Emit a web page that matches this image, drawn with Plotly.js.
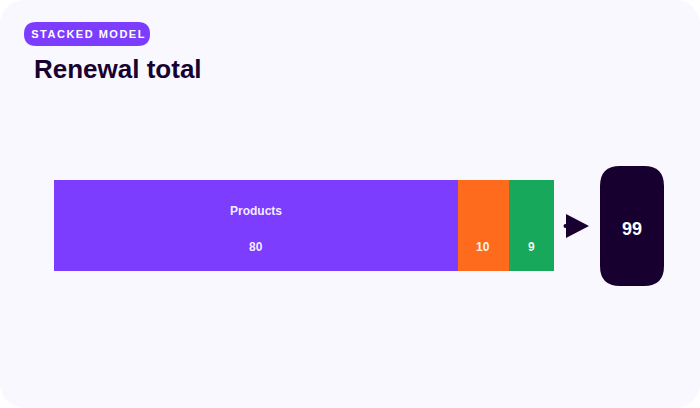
<!DOCTYPE html>
<html>
<head>
<meta charset="utf-8">
<script src="https://cdn.plot.ly/plotly-3.0.1.min.js"></script>
<style>
  html, body { margin: 0; padding: 0; background: #ffffff; }
  #card { width: 700px; height: 408px; background: #faf8ff; border-radius: 24px; overflow: hidden; }
  #chart { width: 700px; height: 408px; }
</style>
</head>
<body>
<div id="card"><div id="chart"></div></div>
<script>
// ---- data ----
const categories = ["Renewal"];
const seriesNames = ["Products", "Services", "Other"];
const seriesValues = [80, 10, 9];
const seriesColors = ["#7c3dff", "#ff6b1c", "#17a85b"];
const showName = [true, false, false];

const total = seriesValues.reduce((a, b) => a + b, 0);

const traces = seriesNames.map((name, i) => ({
  type: "bar",
  orientation: "h",
  name: name,
  y: categories,
  x: [seriesValues[i]],
  marker: { color: seriesColors[i], line: { width: 0 } },
  hoverinfo: "skip"
}));

const FONT = "Liberation Sans, Arial, sans-serif";
const annotations = [];
let cum = 0;
seriesValues.forEach((v, i) => {
  const mid = cum + v / 2;
  cum += v;
  if (showName[i]) {
    annotations.push({
      x: mid, y: categories[0], xref: "x", yref: "y",
      text: "<b>" + seriesNames[i] + "</b>", showarrow: false,
      yshift: 14.5, font: { family: FONT, size: 12, color: "rgba(255,255,255,0.93)" }
    });
  }
  annotations.push({
    x: mid, y: categories[0], xref: "x", yref: "y",
    text: "<b>" + v + "</b>", showarrow: false,
    yshift: -21.5, font: { family: FONT, size: 12, color: "rgba(255,255,255,0.93)" }
  });
});

// badge text
annotations.push({
  x: 88 / 700, y: 1 - 34 / 408, xref: "paper", yref: "paper",
  text: "<b>STACKED MODEL</b>", showarrow: false, xanchor: "center", yanchor: "middle",
  font: { family: FONT, size: 11, color: "#ffffff" }
});
// title
annotations.push({
  x: 32 / 700, y: 1 - 69 / 408, xref: "paper", yref: "paper",
  text: "<b>Renewal total</b>", showarrow: false, xanchor: "left", yanchor: "middle",
  font: { family: FONT, size: 26, color: "#17022f" }
});
// total value
annotations.push({
  x: 632 / 700, y: 1 - 229 / 408, xref: "paper", yref: "paper",
  text: "<b>" + total + "</b>", showarrow: false, xanchor: "center", yanchor: "middle",
  font: { family: FONT, size: 18, color: "#ffffff" }
});

function px(x) { return x / 700; }
function py(y) { return 1 - y / 408; }
function roundRect(x0, y0, x1, y1, r) {
  return `M${px(x0 + r)},${py(y0)} L${px(x1 - r)},${py(y0)} Q${px(x1)},${py(y0)} ${px(x1)},${py(y0 + r)} ` +
         `L${px(x1)},${py(y1 - r)} Q${px(x1)},${py(y1)} ${px(x1 - r)},${py(y1)} ` +
         `L${px(x0 + r)},${py(y1)} Q${px(x0)},${py(y1)} ${px(x0)},${py(y1 - r)} ` +
         `L${px(x0)},${py(y0 + r)} Q${px(x0)},${py(y0)} ${px(x0 + r)},${py(y0)} Z`;
}

const shapes = [
  // badge pill
  { type: "path", xref: "paper", yref: "paper", path: roundRect(24, 22, 150, 46, 12),
    fillcolor: "#7c3dff", line: { width: 0 }, layer: "below" },
  // arrow triangle
  { type: "path", xref: "paper", yref: "paper",
    path: `M${px(566)},${py(214)} L${px(589)},${py(226)} L${px(566)},${py(238)} Z`,
    fillcolor: "#17002f", line: { width: 0 } },
  { type: "circle", xref: "paper", yref: "paper",
    x0: px(563.5), x1: px(567.5), y0: py(228), y1: py(224),
    fillcolor: "#17002f", line: { width: 0 } },
  // total box
  { type: "path", xref: "paper", yref: "paper", path: roundRect(600, 166, 664, 286, 20),
    fillcolor: "#17002f", line: { width: 0 } }
];

const layout = {
  width: 700, height: 408,
  margin: { l: 0, r: 0, t: 0, b: 0 },
  paper_bgcolor: "rgba(0,0,0,0)",
  plot_bgcolor: "rgba(0,0,0,0)",
  barmode: "stack",
  bargap: 0,
  showlegend: false,
  xaxis: { domain: [54 / 700, 554 / 700], range: [0, total], visible: false, fixedrange: true },
  yaxis: { domain: [137 / 408, 228 / 408], range: [-0.5, 0.5], visible: false, fixedrange: true },
  annotations: annotations,
  shapes: shapes
};

Plotly.newPlot("chart", traces, layout, { displayModeBar: false, staticPlot: true }).then(() => {
  document.querySelectorAll(".annotation-text").forEach(t => {
    if (t.textContent === "STACKED MODEL") {
      t.setAttribute("letter-spacing", "1.5px");
    }
  });
});
</script>
</body>
</html>
